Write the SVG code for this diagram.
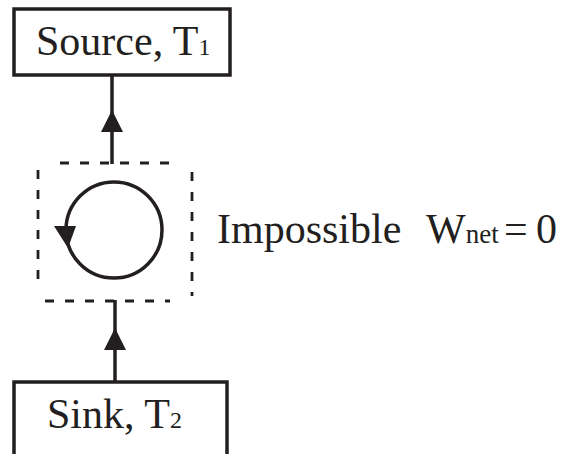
<svg xmlns="http://www.w3.org/2000/svg" width="565" height="454" viewBox="0 0 565 454">
<style>
.box{fill:#fff;stroke:#231f20;stroke-width:3.5}
.ln{fill:none;stroke:#231f20;stroke-width:3.5}
.dash{fill:none;stroke:#231f20;stroke-width:2.8;stroke-dasharray:9,11}
.ah{fill:#231f20}
text{font-family:"Liberation Serif","Times New Roman",serif;fill:#231f20}
.t{font-size:42px}
.b{font-size:42px}
.s{font-size:24px}
.sn{font-size:27px}
</style>
<rect width="565" height="454" fill="#fff"/>
<g id="connectors">
<line class="ln" x1="112" y1="75" x2="112" y2="164"/>
<polygon class="ah" points="112,110 101,132 123,132"/>
<line class="ln" x1="115" y1="300" x2="115" y2="382"/>
<polygon class="ah" points="115,328 104,350 126,350"/>
</g>
<g id="source">
<rect class="box" x="14" y="9" width="216" height="66"/>
<text class="b" x="36" y="55">Source, T<tspan class="s">1</tspan></text>
</g>
<g id="cycle">
<line class="dash" x1="60" y1="163" x2="175" y2="163"/>
<line class="dash" x1="45" y1="301" x2="170" y2="301"/>
<line class="dash" x1="38" y1="170" x2="38" y2="280"/>
<line class="dash" x1="192" y1="172" x2="192" y2="296"/>
<circle class="ln" cx="114" cy="230" r="48"/>
<polygon class="ah" points="54,226 76,226 68,248"/>
</g>
<g id="label">
<text class="t" x="217" y="243">Impossible</text>
<text class="t" x="426" y="243">W<tspan class="sn">net</tspan><tspan x="504">=</tspan><tspan x="536">0</tspan></text>
</g>
<g id="sink">
<rect class="box" x="14" y="382" width="213" height="90"/>
<text class="b" x="47" y="428">Sink, T<tspan class="s">2</tspan></text>
</g>
</svg>
